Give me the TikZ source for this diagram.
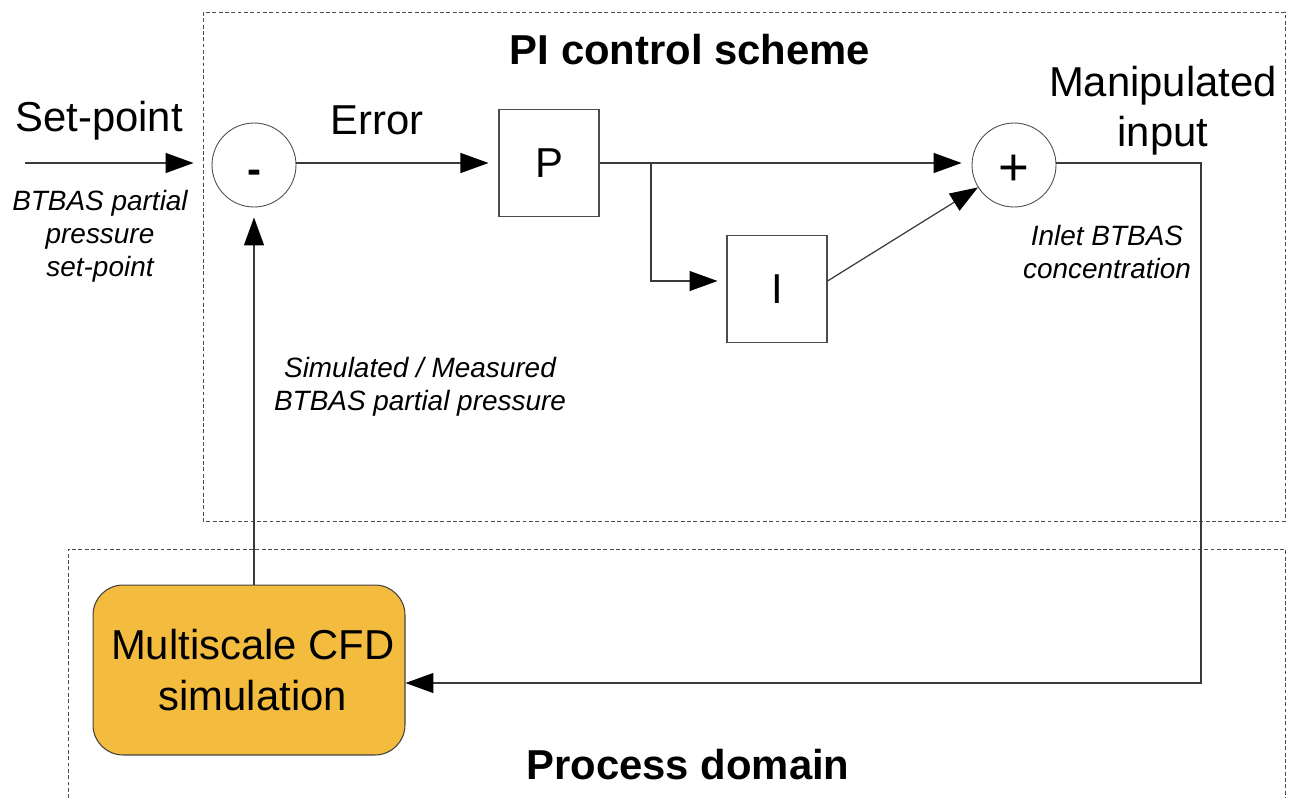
\documentclass[tikz,border=0pt]{standalone}
\usepackage{fontspec}
\setmainfont{Liberation Sans}
\usetikzlibrary{arrows.meta,positioning,calc}
\definecolor{cfdorange}{HTML}{F4BC3E}
\definecolor{linegray}{HTML}{3A3A3A}

\begin{document}
\begin{tikzpicture}[
    x=0.02cm, y=-0.02cm,
    >={Triangle[length=0.56cm,width=0.4cm,color=black]},
    every node/.style={font=\fontsize{23.8pt}{28.6pt}\selectfont, align=center},
    sumnode/.style={
        circle,
        draw=black!70,
        line width=0.5pt,
        minimum size=1.68cm,
        inner sep=0pt
    },
    gainbox/.style={
        rectangle,
        draw=black!70,
        line width=0.6pt,
        minimum width=2cm,
        minimum height=2.14cm
    },
    simbox/.style={
        rectangle,
        rounded corners=0.6cm,
        fill=cfdorange,
        draw=black!75,
        line width=0.6pt,
        minimum width=6.24cm,
        minimum height=3.4cm
    },
    sigtext/.style={font=\fontsize{15.9pt}{18.7pt}\selectfont\itshape},
    frame/.style={draw=black!70, line width=0.5pt, dash pattern=on 2.2pt off 1.4pt},
    conn/.style={->, draw=linegray, line width=0.7pt, shorten >=0.2cm}
]
    \useasboundingbox (0,0) rectangle (1290,798);

    % === FRAMES ===
    \draw[frame] (203,12) rectangle (1285,521);
    \draw[frame] (68,798) -- (68,549) -- (1285,549) -- (1285,798);
    \node[font=\fontsize{23.8pt}{28.6pt}\selectfont\bfseries] (pititle) at (690,50) {PI control scheme};
    \node[font=\fontsize{23.8pt}{28.6pt}\selectfont\bfseries] (proctitle) at (688,765) {Process domain};

    % === CONTROLLER BLOCKS ===
    \node[sumnode] (minus) at (254,165) {\raisebox{-0.37cm}[0pt][0pt]{\bfseries -}};
    \node[gainbox] (P) at (549,163) {P};
    \node[gainbox] (I) at (777,289) {I};
    \node[sumnode, font=\fontsize{30pt}{30pt}\selectfont] (plus) at (1014,165) {\raisebox{-0.41cm}[0pt][0pt]{+}};

    % === PROCESS ===
    \node[simbox] (cfd) at (249,670) {\hspace*{0.15cm}Multiscale CFD\\\hspace*{0.15cm}simulation};

    % === SIGNAL LABELS ===
    \node (setpoint) at (99,121) {Set-point};
    \node[sigtext] (splabel) at (100,236) {BTBAS partial\\pressure\\set-point};
    \node (error) at (377,120) {Error};
    \node (manip) at (1163,111) {Manipulated\\input};
    \node[sigtext] (inlabel) at (1107,252) {Inlet BTBAS\\concentration};
    \node[sigtext] (fblabel) at (420,387) {Simulated / Measured\\BTBAS partial pressure};

    % === CONNECTORS ===
    \coordinate (spin) at (25,163);
    \coordinate (split) at (651,163);
    \coordinate (corner) at (1201,683);

    \draw[conn, shorten >=0.36cm] (spin) -- (spin -| minus.west);
    \draw[conn] (minus.east |- split) -- (P.west |- split);
    \draw[conn] (P.east |- split) -- (plus.west |- split);
    \draw[conn, shorten >=0.18cm] (split) |- ([yshift=0.16cm]I.west);
    \draw[conn, shorten >=0pt] ([yshift=0.16cm]I.east) -- (plus);
    \draw[conn, shorten >=0pt] (plus.east |- split) -| (corner) -- (corner -| cfd.east);
    \draw[conn] (cfd.north -| minus) -- (minus.south);
\end{tikzpicture}
\end{document}
